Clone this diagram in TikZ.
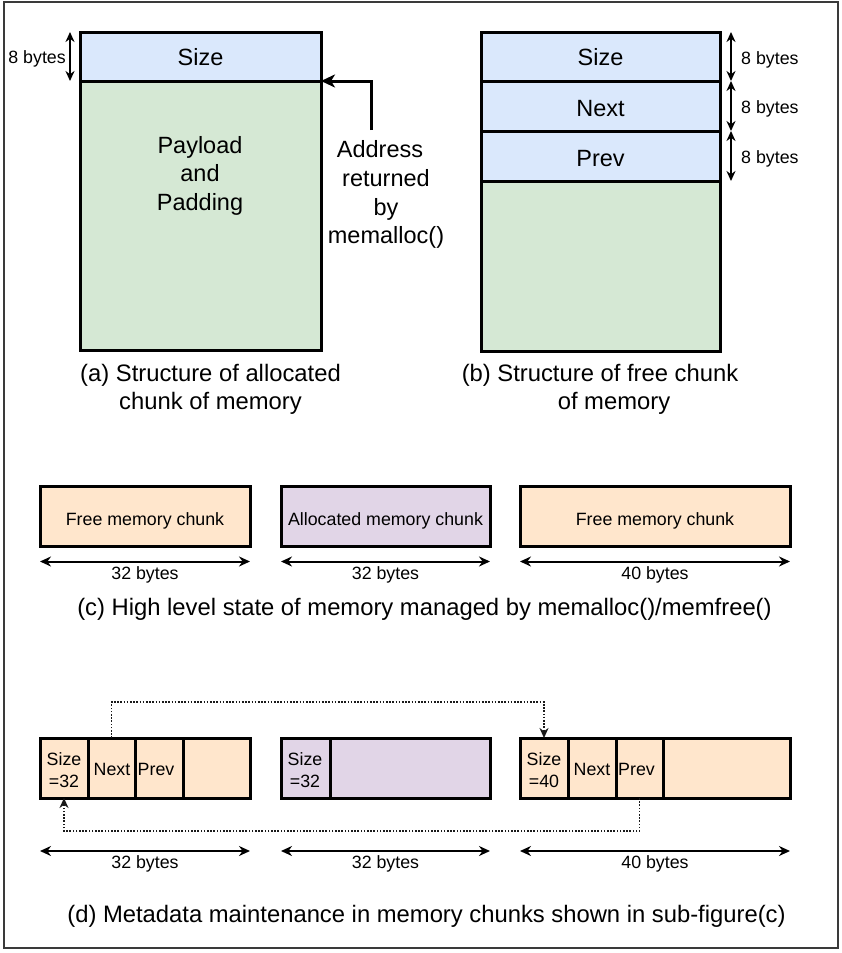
\documentclass[tikz,border=0pt]{standalone}
\usepackage{fontspec}
\setmainfont{Liberation Sans}
\usetikzlibrary{arrows.meta}
\definecolor{cblue}{HTML}{DAE8FC}
\definecolor{cgreen}{HTML}{D5E8D4}
\definecolor{corange}{HTML}{FFE6CC}
\definecolor{cpurple}{HTML}{E1D5E7}
\definecolor{cframe}{HTML}{3A3A3A}
\definecolor{cdot}{HTML}{1A1A1A}
\tikzset{
  cellbox/.style={draw=black, line width=3pt, inner sep=0pt, outer sep=0pt},
  fbig/.style={font=\fontsize{23.5}{28.6}\selectfont, align=center, inner sep=0pt},
  fcap/.style={font=\fontsize{23.8}{28.4}\selectfont, align=center, inner sep=0pt},
  fsmall/.style={font=\fontsize{17.8}{21.7}\selectfont, align=center, inner sep=0pt},
  dimarrow/.style={line width=2pt, {Stealth[length=11pt,width=10pt]}-{Stealth[length=11pt,width=10pt]}},
  dimv/.style={line width=2pt, {Stealth[length=10pt,width=9pt]}-{Stealth[length=10pt,width=9pt]}},
  dotlink/.style={cdot, line width=1.8pt, dash pattern=on 1.6pt off 1.6pt, -{Stealth[length=10pt,width=9pt]}},
  addrarrow/.style={line width=3pt, -{Stealth[length=14pt,width=13pt,inset=4pt]}}
}
\begin{document}
\begin{tikzpicture}[x=1pt,y=-1pt]
\useasboundingbox (0,0) rectangle (842,953);
\draw[cframe, line width=1.5pt] (4,2) rectangle (838,948);

% ---------- (a) allocated chunk
\node[cellbox, fill=cgreen, minimum width=241pt, minimum height=269pt] (payA) at (200.5,215.5) {};
\node[cellbox, fill=cblue, minimum width=241pt, minimum height=49pt] (sizeA) at (200.5,56.5) {};
\node[fbig] (sizeAt) at (200.5,57.3) {Size};
\node[fbig] (payT) at (200,175.7) {Payload\\and\\Padding};
\draw[dimv] ([xshift=-10pt]sizeA.north west) -- ([xshift=-10pt]sizeA.south west);
\node[fsmall, anchor=east] (lbA) at (66,58.8) {8 bytes};
\node[fbig] (addrT) at (386,194.7) {Address\hspace*{12pt}\\returned\hspace*{12pt}\\by\hspace*{12pt}\\memalloc()};
\coordinate (a0) at (371,130);
\draw[addrarrow] (a0) |- (payA.north east);
\node[fcap] (capA) at (210.5,389.6) {(a) Structure of allocated\\chunk of memory};

% ---------- (b) free chunk
\node[cellbox, fill=cgreen, minimum width=239pt, minimum height=170pt] (payB) at (600.5,266) {};
\node[cellbox, fill=cblue, minimum width=239pt, minimum height=50pt] (prevB) at (600.5,156) {};
\node[cellbox, fill=cblue, minimum width=239pt, minimum height=50pt] (nextB) at (600.5,106) {};
\node[cellbox, fill=cblue, minimum width=239pt, minimum height=49pt] (sizeB) at (600.5,56.5) {};
\node[fbig] (sizeBt) at (600.5,57.3) {Size};
\node[fbig] (nextBt) at (600.5,108.3) {Next};
\node[fbig] (prevBt) at (600.5,158.3) {Prev};
\draw[dimv] ([xshift=11pt]sizeB.north east) -- ([xshift=11pt]sizeB.south east);
\draw[dimv] ([xshift=11pt]nextB.north east) -- ([xshift=11pt]nextB.south east);
\draw[dimv] ([xshift=11pt]prevB.north east) -- ([xshift=11pt]prevB.south east);
\node[fsmall, anchor=west] (lbB1) at (741,59.6) {8 bytes};
\node[fsmall, anchor=west] (lbB2) at (741,108.7) {8 bytes};
\node[fsmall, anchor=west] (lbB3) at (741,158.7) {8 bytes};
\node[fcap] (capB) at (600,389.6) {(b) Structure of free chunk\\\hspace*{28pt}of memory};

% ---------- (c) high level state
\node[cellbox, fill=corange, minimum width=210pt, minimum height=60pt] (c1) at (145,516) {};
\node[cellbox, fill=cpurple, minimum width=209pt, minimum height=60pt] (c2) at (385.5,516) {};
\node[cellbox, fill=corange, minimum width=270pt, minimum height=60pt] (c3) at (655,516) {};
\node[fsmall] (c1t) at (145,520.4) {Free memory chunk};
\node[fsmall] (c2t) at (385.5,520.4) {Allocated memory chunk};
\node[fsmall] (c3t) at (655,520.4) {Free memory chunk};
\draw[dimarrow] ([yshift=-15.5pt]c1.south west) -- ([yshift=-15.5pt]c1.south east);
\draw[dimarrow] ([yshift=-15.5pt]c2.south west) -- ([yshift=-15.5pt]c2.south east);
\draw[dimarrow] ([yshift=-15.5pt]c3.south west) -- ([yshift=-15.5pt]c3.south east);
\node[fsmall] (lc1) at (145,574.7) {32 bytes};
\node[fsmall] (lc2) at (385.5,574.7) {32 bytes};
\node[fsmall] (lc3) at (655,574.7) {40 bytes};
\node[fcap] (capC) at (424.5,608.9) {(c) High level state of memory managed by memalloc()/memfree()};

% ---------- (d) metadata
\node[cellbox, fill=corange, minimum width=48pt, minimum height=60pt] (s1) at (64,768) {};
\node[cellbox, fill=corange, minimum width=47pt, minimum height=60pt] (n1) at (111.5,768) {};
\node[cellbox, fill=corange, minimum width=48pt, minimum height=60pt] (p1) at (159,768) {};
\node[cellbox, fill=corange, minimum width=67pt, minimum height=60pt] (e1) at (216.5,768) {};
\node[cellbox, fill=cpurple, minimum width=49pt, minimum height=60pt] (s2) at (305.5,768) {};
\node[cellbox, fill=cpurple, minimum width=160pt, minimum height=60pt] (e2) at (410,768) {};
\node[cellbox, fill=corange, minimum width=48pt, minimum height=60pt] (s3) at (544,768) {};
\node[cellbox, fill=corange, minimum width=48pt, minimum height=60pt] (n3) at (592,768) {};
\node[cellbox, fill=corange, minimum width=47pt, minimum height=60pt] (p3) at (639.5,768) {};
\node[cellbox, fill=corange, minimum width=127pt, minimum height=60pt] (e3) at (726.5,768) {};
\node[fsmall] (s1t) at (64,770.2) {Size\\=32};
\node[fsmall] (n1t) at (112,769.6) {Next};
\node[fsmall] (p1t) at (156,769.6) {Prev};
\node[fsmall] (s2t) at (305,770.2) {Size\\=32};
\node[fsmall] (s3t) at (544,770.2) {Size\\=40};
\node[fsmall] (n3t) at (592,769.6) {Next};
\node[fsmall] (p3t) at (636.5,769.6) {Prev};
\draw[dotlink] (n1.north) -- ++(0,-36) -| (s3.north);
\draw[dotlink] (p3.south) -- ++(0,33) -| (s1.south);
\draw[dimarrow] ([yshift=-53pt]s1.south west) -- ([yshift=-53pt]e1.south east);
\draw[dimarrow] ([yshift=-53pt]s2.south west) -- ([yshift=-53pt]e2.south east);
\draw[dimarrow] ([yshift=-53pt]s3.south west) -- ([yshift=-53pt]e3.south east);
\node[fsmall] (ld1) at (145,863.7) {32 bytes};
\node[fsmall] (ld2) at (385.5,863.7) {32 bytes};
\node[fsmall] (ld3) at (655,863.7) {40 bytes};
\node[fcap] (capD) at (426.5,916.2) {(d) Metadata maintenance in memory chunks shown in sub-figure(c)};
\end{tikzpicture}
\end{document}
